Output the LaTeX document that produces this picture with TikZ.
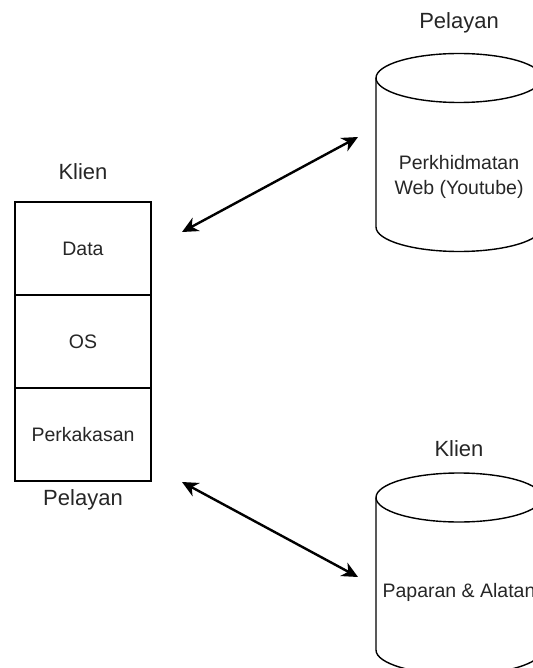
\documentclass[tikz,border=0pt]{standalone}
\usepackage{fontspec}
\setmainfont{Liberation Sans}
\usetikzlibrary{positioning,arrows.meta}

\tikzset{
    layer/.style={draw, line width=.7pt, minimum width=68pt, minimum height=46.5pt,
        inner sep=0pt, outer sep=0pt, font=\fontsize{9.75}{12.5}\selectfont, text=black!85},
    tag/.style={font=\fontsize{11}{13}\selectfont, text=black!85, inner sep=0pt, anchor=base},
    dbline/.style={line width=.7pt},
    dbtext/.style={font=\fontsize{9.75}{12.5}\selectfont, text=black!85, align=center, inner sep=0pt},
    link/.style={{Stealth[length=8pt,width=7.5pt,inset=2.5pt]}-{Stealth[length=8pt,width=7.5pt,inset=2.5pt]}, line width=1.2pt}
}

\begin{document}
\begin{tikzpicture}[x=0.5pt, y=-0.5pt]
    \useasboundingbox (0,0) rectangle (533,668);
    % lapisan klien
    \node[layer] (data) at (83,248.5) {Data};
    \node[layer, below=0pt of data] (os) {OS};
    \node[layer, below=0pt of os] (hw) {Perkakasan};
    \node[tag] (klienA) at (83,180) {Klien};
    \node[tag] (pelayanA) at (83,505.5) {Pelayan};
    % silinder pelayan
    \draw[dbline] (376,78) -- (376,227) arc[start angle=180, end angle=0, x radius=83, y radius=24.5] -- (542,78);
    \draw[dbline] (459,78) ellipse[x radius=83, y radius=24.5];
    \node[dbtext] (webtxt) at (459,177) {Perkhidmatan\\Web (Youtube)};
    \node[tag] (pelayanB) at (459,28.5) {Pelayan};
    % silinder klien
    \draw[dbline] (376,497.5) -- (376,650) arc[start angle=180, end angle=0, x radius=83, y radius=24.5] -- (542,497.5);
    \draw[dbline] (459,497.5) ellipse[x radius=83, y radius=24.5];
    \node[dbtext] (alattxt) at (459,592) {Paparan \& Alatan};
    \node[tag] (klienB) at (459,456) {Klien};
    % anak panah
    \coordinate (a1) at (182,232);
    \coordinate (a2) at (358,137);
    \coordinate (b1) at (182,482);
    \coordinate (b2) at (358,577);
    \draw[link] (a1) -- (a2);
    \draw[link] (b1) -- (b2);
\end{tikzpicture}
\end{document}
